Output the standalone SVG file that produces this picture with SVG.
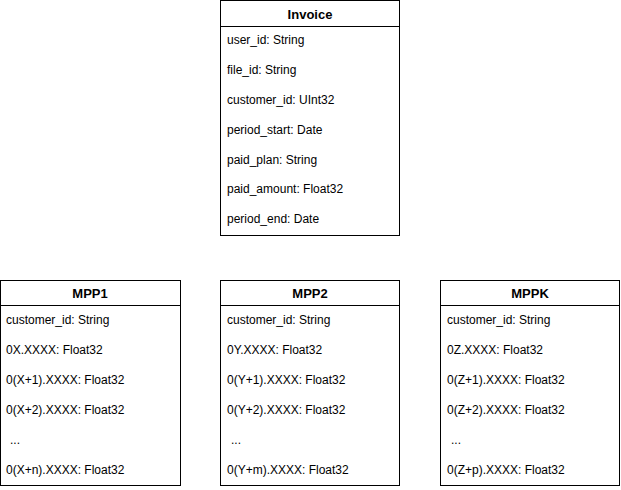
<svg xmlns="http://www.w3.org/2000/svg" width="621" height="490" viewBox="0 0 621 490">
  <style>
    .box { fill: #ffffff; stroke: #000000; stroke-width: 1; }
    .sep { stroke: #000000; stroke-width: 1; fill: none; }
    .title { font-family: "Liberation Sans", Arial, sans-serif; font-size: 13px; font-weight: bold; fill: #000000; text-anchor: middle; }
    .field { font-family: "Liberation Sans", Arial, sans-serif; font-size: 12px; fill: #000000; }
  </style>
  <rect width="621" height="490" fill="#ffffff"/>

  <!-- Invoice table -->
  <g id="invoice">
    <rect class="box" x="220.5" y="0.5" width="179" height="235"/>
    <line class="sep" x1="220.5" y1="26.5" x2="399.5" y2="26.5"/>
    <text class="title" x="310" y="19">Invoice</text>
    <text class="field" x="227" y="44">user_id: String</text>
    <text class="field" x="227" y="74">file_id: String</text>
    <text class="field" x="227" y="104">customer_id: UInt32</text>
    <text class="field" x="227" y="134">period_start: Date</text>
    <text class="field" x="227" y="164">paid_plan: String</text>
    <text class="field" x="227" y="193">paid_amount: Float32</text>
    <text class="field" x="227" y="223">period_end: Date</text>
  </g>

  <!-- MPP1 table -->
  <g id="mpp1">
    <rect class="box" x="0.5" y="280.5" width="180" height="205"/>
    <line class="sep" x1="0.5" y1="305.5" x2="180.5" y2="305.5"/>
    <text class="title" x="90" y="298">MPP1</text>
    <text class="field" x="6" y="324">customer_id: String</text>
    <text class="field" x="6" y="354">0X.XXXX: Float32</text>
    <text class="field" x="6" y="384">0(X+1).XXXX: Float32</text>
    <text class="field" x="6" y="414">0(X+2).XXXX: Float32</text>
    <text class="field" x="10" y="444">...</text>
    <text class="field" x="6" y="474">0(X+n).XXXX: Float32</text>
  </g>

  <!-- MPP2 table -->
  <g id="mpp2">
    <rect class="box" x="220.5" y="280.5" width="179" height="205"/>
    <line class="sep" x1="220.5" y1="305.5" x2="399.5" y2="305.5"/>
    <text class="title" x="310" y="298">MPP2</text>
    <text class="field" x="227" y="324">customer_id: String</text>
    <text class="field" x="227" y="354">0Y.XXXX: Float32</text>
    <text class="field" x="227" y="384">0(Y+1).XXXX: Float32</text>
    <text class="field" x="227" y="414">0(Y+2).XXXX: Float32</text>
    <text class="field" x="231" y="444">...</text>
    <text class="field" x="227" y="474">0(Y+m).XXXX: Float32</text>
  </g>

  <!-- MPPK table -->
  <g id="mppk">
    <rect class="box" x="440.5" y="280.5" width="179" height="205"/>
    <line class="sep" x1="440.5" y1="305.5" x2="619.5" y2="305.5"/>
    <text class="title" x="530" y="298">MPPK</text>
    <text class="field" x="447" y="324">customer_id: String</text>
    <text class="field" x="447" y="354">0Z.XXXX: Float32</text>
    <text class="field" x="447" y="384">0(Z+1).XXXX: Float32</text>
    <text class="field" x="447" y="414">0(Z+2).XXXX: Float32</text>
    <text class="field" x="451" y="444">...</text>
    <text class="field" x="447" y="474">0(Z+p).XXXX: Float32</text>
  </g>

  <!-- no connectors between tables -->
  <g id="connectors"></g>
</svg>
